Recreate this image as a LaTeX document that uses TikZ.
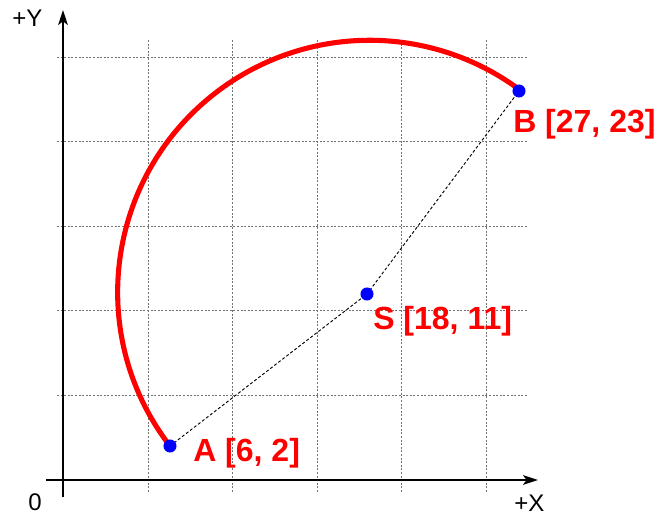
\documentclass[tikz,border=0pt]{standalone}
\usepackage{fontspec}
\setmainfont{Liberation Sans}
\usetikzlibrary{arrows.meta}
\begin{document}
\begin{tikzpicture}[x=0.75pt,y=-0.75pt,
  gridline/.style={draw=black!55,line width=0.6pt,dash pattern=on 1.5pt off 1.2pt},
  axisline/.style={line width=2.2pt,-{Stealth[length=11pt,width=7pt,inset=2.5pt]}},
  guide/.style={draw=black,line width=0.7pt,dash pattern=on 2.2pt off 1.6pt},
  path/.style={draw=red,line width=3.8pt},
  dot/.style={circle,fill=blue,inner sep=0pt,minimum size=9.8pt},
  ptlabel/.style={text=red,font=\fontsize{24}{28}\selectfont\bfseries,anchor=base west,inner sep=0pt},
  axlabel/.style={text=black,font=\fontsize{18}{22}\selectfont,anchor=base west,inner sep=0pt}]
\useasboundingbox (0,0) rectangle (657,516);
% grid
\foreach \gx in {148,232.5,317,401.5,486}
  \draw[gridline] (\gx,40) -- (\gx,492);
\foreach \gy in {57,141.6,226.2,310.8,395.4}
  \draw[gridline] (57,\gy) -- (527,\gy);
% axes
\coordinate (ybot) at (63,497);
\coordinate (ytop) at (63,10);
\coordinate (xleft) at (46,480);
\coordinate (xright) at (538,480);
\draw[axisline] (ybot) -- (ytop);
\draw[axisline] (xleft) -- (xright);
\node[axlabel] (ly) at (12,27) {+Y};
\node[axlabel] (lx) at (514,511) {+X};
\node[axlabel] (l0) at (28,510) {0};
% points
\coordinate (A) at (170,446);
\coordinate (S) at (367,294);
\coordinate (B) at (519,91);
\draw[guide] (A) -- (S) -- (B);
\draw[path] (A) arc[start angle=142.4,end angle=306.8,radius=252];
\node[dot] (dA) at (A) {};
\node[dot] (dS) at (S) {};
\node[dot] (dB) at (B) {};
\node[ptlabel] (tA) at (193,461) {A [6, 2]};
\node[ptlabel] (tS) at (373,330) {S [18, 11]};
\node[ptlabel] (tB) at (513,133) {B [27, 23]};
\end{tikzpicture}
\end{document}
